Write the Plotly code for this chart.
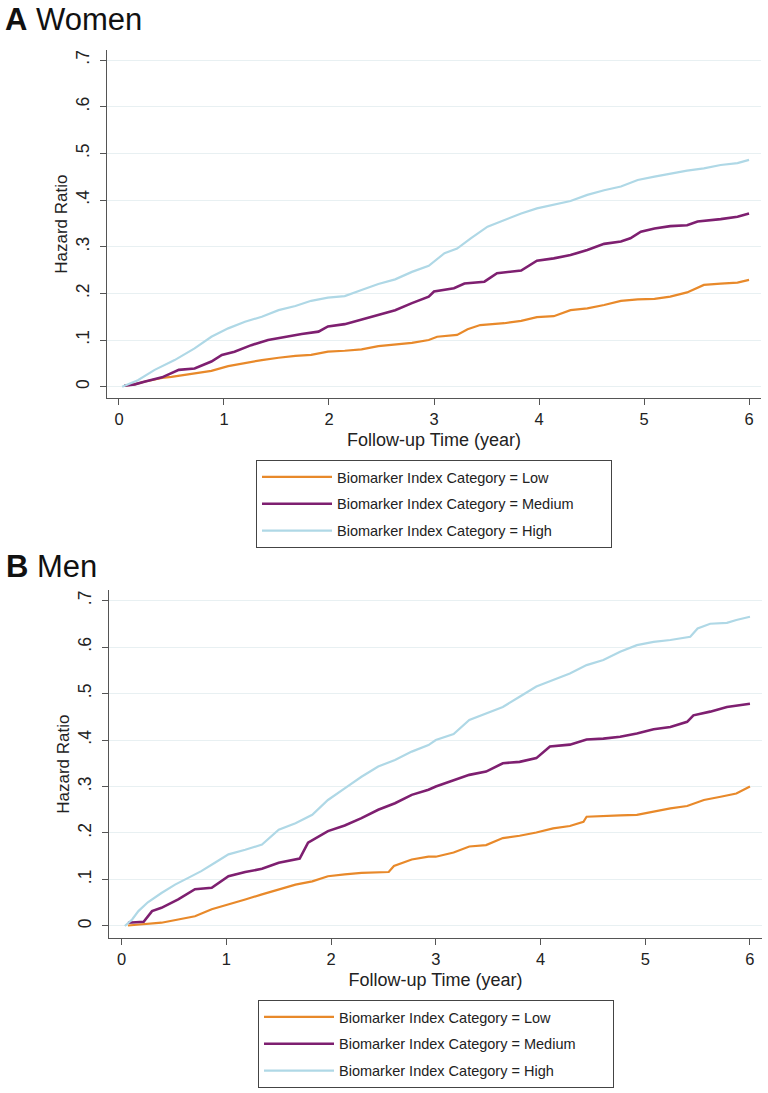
import plotly.graph_objects as go

# ---- data (time in years, cumulative hazard) ----
categories = ["Low", "Medium", "High"]
colors = {"Low": "#e8892a", "Medium": "#7e1f70", "High": "#afd8e6"}
widths = {"Low": 2.2, "Medium": 2.6, "High": 2.2}

# Panel A: Women
women_low_t = [0.05, 0.15, 0.25, 0.41, 0.50, 0.72, 0.88, 1.04, 1.20, 1.36, 1.52, 1.68, 1.83, 1.99,
               2.15, 2.31, 2.47, 2.63, 2.79, 2.95, 3.03, 3.22, 3.32, 3.44, 3.67, 3.83, 3.98, 4.14,
               4.30, 4.46, 4.62, 4.78, 4.94, 5.10, 5.25, 5.41, 5.57, 5.73, 5.89, 6.00]
women_low = [0.002, 0.005, 0.011, 0.019, 0.021, 0.029, 0.034, 0.044, 0.051, 0.057, 0.062, 0.066, 0.068, 0.075,
             0.077, 0.080, 0.087, 0.091, 0.094, 0.100, 0.107, 0.111, 0.123, 0.132, 0.136, 0.141, 0.149, 0.151,
             0.164, 0.168, 0.175, 0.184, 0.187, 0.188, 0.193, 0.202, 0.218, 0.221, 0.223, 0.229]

women_med_t = [0.05, 0.15, 0.25, 0.41, 0.57, 0.72, 0.88, 0.98, 1.10, 1.26, 1.42, 1.58, 1.74, 1.90, 1.99,
               2.15, 2.31, 2.47, 2.63, 2.79, 2.95, 3.00, 3.19, 3.29, 3.48, 3.60, 3.83, 3.98, 4.14,
               4.30, 4.46, 4.62, 4.78, 4.87, 4.97, 5.10, 5.25, 5.41, 5.51, 5.73, 5.89, 6.00]
women_med = [0.002, 0.005, 0.011, 0.020, 0.036, 0.039, 0.054, 0.068, 0.075, 0.089, 0.100, 0.107, 0.113, 0.118, 0.129,
             0.134, 0.144, 0.154, 0.164, 0.179, 0.193, 0.204, 0.211, 0.221, 0.225, 0.243, 0.249, 0.270, 0.275,
             0.282, 0.293, 0.306, 0.311, 0.318, 0.332, 0.339, 0.344, 0.346, 0.354, 0.359, 0.364, 0.371]

women_high_t = [0.03, 0.18, 0.34, 0.53, 0.72, 0.88, 1.04, 1.20, 1.36, 1.52, 1.68, 1.83, 1.99, 2.15,
                2.31, 2.47, 2.63, 2.79, 2.95, 3.10, 3.22, 3.35, 3.51, 3.67, 3.83, 3.98, 4.14, 4.30,
                4.46, 4.62, 4.78, 4.94, 5.10, 5.25, 5.41, 5.57, 5.73, 5.89, 6.00]
women_high = [0.000, 0.014, 0.036, 0.057, 0.082, 0.107, 0.125, 0.139, 0.150, 0.164, 0.173, 0.184, 0.191, 0.194,
              0.207, 0.220, 0.230, 0.246, 0.259, 0.286, 0.296, 0.318, 0.343, 0.357, 0.371, 0.382, 0.390, 0.398,
              0.411, 0.421, 0.429, 0.443, 0.450, 0.457, 0.463, 0.468, 0.475, 0.479, 0.486]

# Panel B: Men
men_low_t = [0.06, 0.25, 0.38, 0.54, 0.70, 0.86, 1.02, 1.18, 1.34, 1.50, 1.66, 1.82, 1.97, 2.13, 2.29,
             2.55, 2.60, 2.77, 2.93, 3.00, 3.17, 3.32, 3.48, 3.64, 3.80, 3.96, 4.12, 4.28, 4.41, 4.44,
             4.60, 4.76, 4.92, 5.08, 5.24, 5.40, 5.56, 5.72, 5.87, 6.00]
men_low = [0.001, 0.004, 0.007, 0.014, 0.021, 0.036, 0.046, 0.057, 0.068, 0.079, 0.089, 0.096, 0.107, 0.111, 0.114,
           0.116, 0.129, 0.143, 0.149, 0.149, 0.158, 0.171, 0.174, 0.189, 0.194, 0.201, 0.210, 0.215, 0.224, 0.235,
           0.237, 0.238, 0.239, 0.246, 0.253, 0.258, 0.271, 0.278, 0.285, 0.300]

men_med_t = [0.06, 0.21, 0.29, 0.38, 0.54, 0.70, 0.86, 1.02, 1.18, 1.34, 1.50, 1.66, 1.70, 1.78, 1.97,
             2.13, 2.29, 2.45, 2.61, 2.77, 2.93, 3.00, 3.17, 3.32, 3.48, 3.64, 3.80, 3.96, 4.09, 4.28,
             4.44, 4.60, 4.76, 4.92, 5.08, 5.24, 5.40, 5.46, 5.62, 5.78, 6.00]
men_med = [0.007, 0.009, 0.032, 0.039, 0.057, 0.079, 0.082, 0.107, 0.116, 0.123, 0.136, 0.144, 0.145, 0.179, 0.204,
           0.216, 0.232, 0.250, 0.264, 0.282, 0.293, 0.300, 0.314, 0.325, 0.332, 0.350, 0.353, 0.361, 0.386, 0.390,
           0.401, 0.403, 0.407, 0.414, 0.423, 0.428, 0.439, 0.453, 0.461, 0.471, 0.478]

men_high_t = [0.03, 0.10, 0.16, 0.25, 0.38, 0.51, 0.64, 0.76, 0.89, 1.02, 1.18, 1.34, 1.50, 1.66, 1.82,
              1.97, 2.13, 2.29, 2.45, 2.61, 2.77, 2.93, 3.00, 3.17, 3.32, 3.48, 3.64, 3.80, 3.96, 4.12,
              4.28, 4.44, 4.60, 4.76, 4.92, 5.08, 5.24, 5.43, 5.50, 5.62, 5.78, 5.87, 6.00]
men_high = [0.000, 0.014, 0.032, 0.051, 0.071, 0.089, 0.104, 0.118, 0.136, 0.154, 0.164, 0.175, 0.207, 0.221, 0.239,
            0.271, 0.296, 0.321, 0.343, 0.357, 0.375, 0.389, 0.400, 0.413, 0.443, 0.457, 0.471, 0.493, 0.515, 0.529,
            0.543, 0.561, 0.572, 0.590, 0.604, 0.611, 0.615, 0.622, 0.640, 0.650, 0.652, 0.658, 0.665]

x_ticks = [0, 1, 2, 3, 4, 5, 6]
y_ticks = [0, 0.1, 0.2, 0.3, 0.4, 0.5, 0.6, 0.7]
y_ticktext = ["0", ".1", ".2", ".3", ".4", ".5", ".6", ".7"]

panels = [
    ("A", "x", "y", "legend", {"Low": (women_low_t, women_low),
                               "Medium": (women_med_t, women_med),
                               "High": (women_high_t, women_high)}),
    ("B", "x2", "y2", "legend2", {"Low": (men_low_t, men_low),
                                  "Medium": (men_med_t, men_med),
                                  "High": (men_high_t, men_high)}),
]

W, H = 768, 1093
FONT = "Liberation Sans, Arial, Helvetica, sans-serif"
PAD = "&nbsp;" * 8  # extra room on the right side of the legend box

def px_x(x):
    return x / W

def px_y(y):
    return 1 - y / H

fig = go.Figure()
for tag, xa, ya, leg, series in panels:
    for cat in categories:
        t, v = series[cat]
        fig.add_trace(go.Scatter(
            x=t, y=v, mode="lines", xaxis=xa, yaxis=ya,
            name="Biomarker Index Category = " + cat + PAD,
            line=dict(color=colors[cat], width=widths[cat]),
            legend=leg, legendgroup=tag + cat, showlegend=True,
        ))

axis_common = dict(showline=True, linecolor="#555555", linewidth=1.3,
                   ticks="outside", ticklen=6, tickwidth=1.2, tickcolor="#555555",
                   zeroline=False, color="#222222")
xaxis_common = dict(axis_common, tickvals=x_ticks, showgrid=False,
                    tickfont=dict(size=16.5, family=FONT),
                    title=dict(text="Follow-up Time (year)", font=dict(size=18, family=FONT), standoff=6))
yaxis_common = dict(axis_common, tickvals=y_ticks, ticktext=y_ticktext, tickangle=-90,
                    ticklabelstandoff=4,
                    showgrid=True, gridcolor="#e8f0f2", gridwidth=1,
                    tickfont=dict(size=17.5, family=FONT),
                    title=dict(text="Hazard Ratio", font=dict(size=17, family=FONT), standoff=0))

legend_common = dict(xanchor="left", yanchor="top", bordercolor="#444444", borderwidth=1,
                     bgcolor="white", font=dict(size=14.5, family=FONT, color="#222222"),
                     tracegroupgap=5, itemwidth=70, itemclick=False)

fig.update_layout(
    width=W, height=H,
    margin=dict(l=0, r=0, t=0, b=0),
    paper_bgcolor="white", plot_bgcolor="white",
    font=dict(family=FONT, color="#222222"),
    xaxis=dict(xaxis_common, domain=[px_x(107), px_x(761)], range=[-0.114, 6.114], anchor="y"),
    yaxis=dict(yaxis_common, domain=[px_y(398.3), px_y(50)], range=[-0.0249, 0.7215], anchor="x"),
    xaxis2=dict(xaxis_common, domain=[px_x(109), px_x(762)], range=[-0.121, 6.115], anchor="y2"),
    yaxis2=dict(yaxis_common, domain=[px_y(938.3), px_y(590)], range=[-0.0265, 0.7226], anchor="x2"),
    legend=dict(legend_common, x=px_x(256), y=px_y(460)),
    legend2=dict(legend_common, x=px_x(258), y=px_y(1000)),
    annotations=[
        dict(text="<b>A</b> Women", x=px_x(3), y=1, xref="paper", yref="paper",
             xanchor="left", yanchor="top", showarrow=False,
             font=dict(size=31, family=FONT, color="#111111")),
        dict(text="<b>B</b> Men", x=px_x(4), y=px_y(547), xref="paper", yref="paper",
             xanchor="left", yanchor="top", showarrow=False,
             font=dict(size=31, family=FONT, color="#111111")),
    ],
)

# the page's default 8px body margin would push the figure off its frame
fig.write_html("out.html", config={"displayModeBar": False},
               post_script="document.body.style.margin = '0';")
